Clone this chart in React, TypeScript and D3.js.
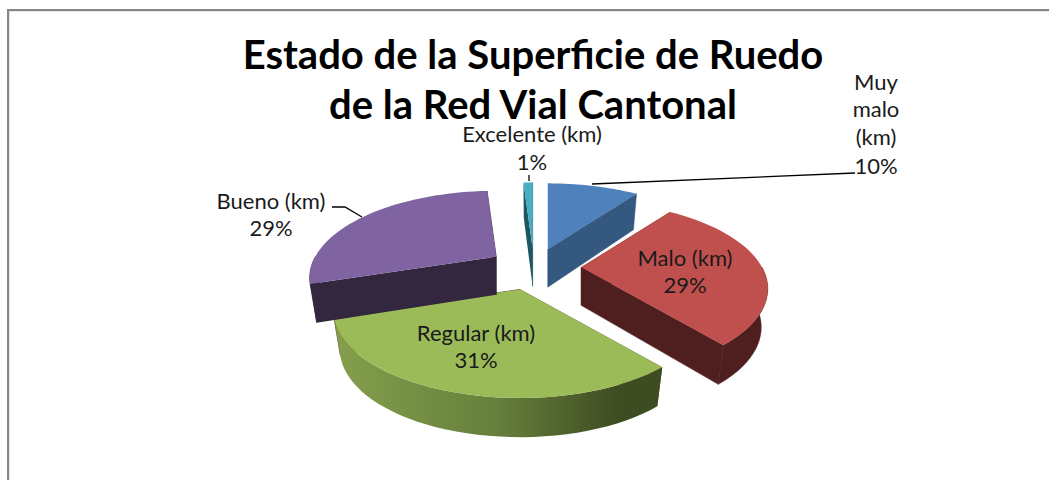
import React from "react";
import * as d3 from "d3";

const categories = ["Muy malo (km)", "Malo (km)", "Regular (km)", "Bueno (km)", "Excelente (km)"];
const percents = [10, 29, 31, 29, 1];
const topColors = ["#4f81bd", "#c0504d", "#9bbb59", "#8064a2", "#4bacc6"];
const sideColors = ["#34587f", "#4f1e1e", "#4f1e1e", "#33263f", "#1f5663"];
// back to front, the purple wall sits over the green top
const drawOrder = [4, 0, 1, 2, 3];

const cx = 534;
const cy = 268;
const radiusX = 181;
const tiltY = 82;
const perspective = 0.245;
const explode = 0.255;
const depth = 38;
const bottomShrink = 0.965;

// plane direction (0 = back, clockwise) to screen offset
const project = (angle: number, r = 1, rx = radiusX) => {
  const u = r * Math.sin(angle);
  const v = -r * Math.cos(angle);
  const s = 1 / (1 - v * perspective);
  return [u * rx * s, v * tiltY * s];
};

const pieAngles = d3
  .pie<number>()
  .value((d) => d)
  .sort(null)(percents);

const line = d3.line();

const App = () => {
  const slices = pieAngles.map((p) => {
    const mid = (p.startAngle + p.endAngle) / 2;
    const off = project(mid, explode, 185);
    const apex: [number, number] = [cx + off[0], cy + off[1]];
    const rimAt = (a: number): [number, number] => {
      const q = project(a);
      return [apex[0] + q[0], apex[1] + q[1]];
    };
    const lowAt = (a: number): [number, number] => {
      const q = project(a);
      // wall is a bit taller toward the viewer
      return [apex[0] + q[0] * bottomShrink, apex[1] + q[1] * bottomShrink + depth - 5 * Math.cos(a)];
    };
    return { ...p, apex, rimAt, lowAt };
  });

  const arcAngles = (a0: number, a1: number) => d3.range(0, 41).map((i) => a0 + ((a1 - a0) * i) / 40);

  return (
    <svg
      width={1049}
      height={480}
      style={{ position: "absolute", left: 0, top: 0, background: "#fff", fontFamily: "Lato, Carlito, sans-serif" }}
    >
      <defs>
        <linearGradient id="greenWall" gradientUnits="userSpaceOnUse" x1={331} x2={659} y1={0} y2={0}>
          <stop offset="0" stopColor="#84a04c" />
          <stop offset="0.5" stopColor="#66803c" />
          <stop offset="0.88" stopColor="#3e4c21" />
          <stop offset="1" stopColor="#3e4c21" />
        </linearGradient>
      </defs>

      <path d="M8 480V10H1049" fill="none" stroke="#868686" strokeWidth={2} />
      <path d="M9.5 480V11.5H1049" fill="none" stroke="#e4e4e4" strokeWidth={1} />

      {drawOrder.map((idx) => {
        const s = slices[idx];
        const cut = (a: number) =>
          line([s.apex, s.rimAt(a), s.lowAt(a), [s.apex[0], s.apex[1] + depth]]) + "Z";
        const a0 = Math.max(s.startAngle, Math.PI / 2);
        const a1 = Math.min(s.endAngle, (Math.PI * 3) / 2);
        const wall =
          a1 > a0
            ? line([...arcAngles(a0, a1).map(s.rimAt), ...arcAngles(a0, a1).reverse().map(s.lowAt)]) + "Z"
            : null;
        const top = line([s.apex, ...arcAngles(s.startAngle, s.endAngle).map(s.rimAt)]) + "Z";
        const wallFill = idx === 2 ? "url(#greenWall)" : sideColors[idx];
        return (
          <g key={categories[idx]}>
            <path d={cut(s.startAngle)} fill={sideColors[idx]} />
            <path d={cut(s.endAngle)} fill={sideColors[idx]} stroke={sideColors[idx]} strokeWidth={0.5} />
            {wall && <path d={wall} fill={wallFill} stroke={idx === 2 ? "none" : sideColors[idx]} strokeWidth={0.5} />}
            <path d={top} fill={topColors[idx]} />
          </g>
        );
      })}

      <g fill="none" stroke="#000" strokeWidth={1.3}>
        <path d="M592 184L855 173" />
        <path d="M362 217L345 207H332" />
        <path d="M529 175V181" />
      </g>

      <g textAnchor="middle" fill="#000">
        <text x={533} y={69} fontSize={40} fontWeight={700}>Estado de la Superficie de Ruedo</text>
        <text x={533} y={119} fontSize={40} fontWeight={700}>de la Red Vial Cantonal</text>
      </g>

      <g textAnchor="middle" fill="#1a1a1a" fontSize={22}>
        <text x={876} y={90}>Muy</text>
        <text x={876} y={117}>malo</text>
        <text x={876} y={145}>(km)</text>
        <text x={876} y={174}>{percents[0]}%</text>
        <text x={685} y={266}>{categories[1]}</text>
        <text x={685} y={293}>{percents[1]}%</text>
        <text x={476} y={341}>{categories[2]}</text>
        <text x={476} y={368}>{percents[2]}%</text>
        <text x={271} y={209}>{categories[3]}</text>
        <text x={271} y={236}>{percents[3]}%</text>
        <text x={532} y={142}>{categories[4]}</text>
        <text x={532} y={170}>{percents[4]}%</text>
      </g>
    </svg>
  );
};

export default App;
